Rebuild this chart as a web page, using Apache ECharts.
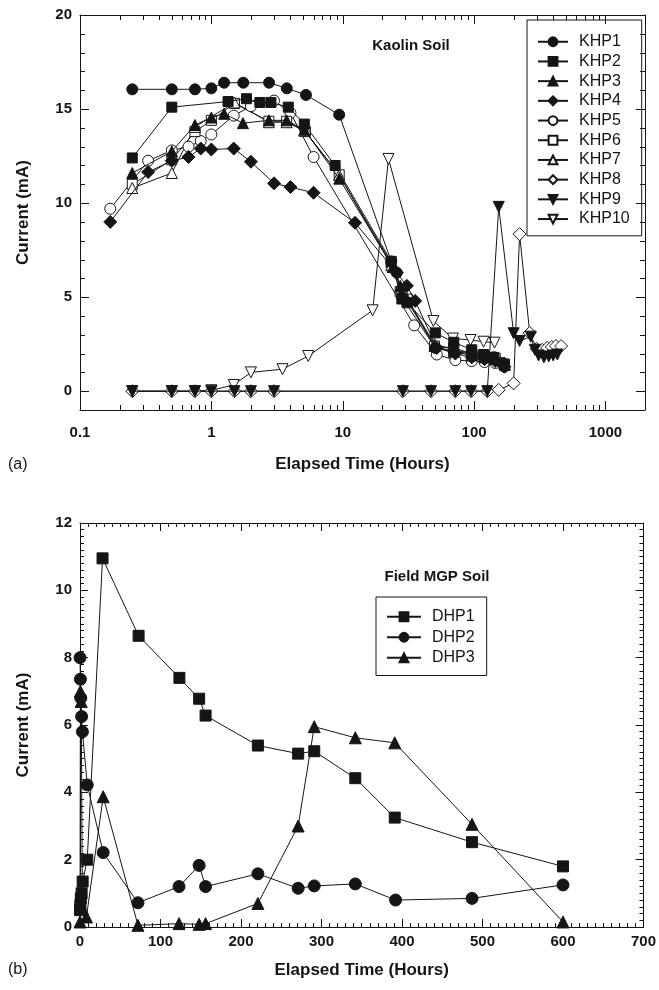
<!DOCTYPE html>
<html><head><meta charset="utf-8">
<script src="https://cdn.jsdelivr.net/npm/echarts@6/dist/echarts.min.js"></script>
<style>html,body{margin:0;padding:0;background:#fff}#ca{width:659px;height:490px}#cb{width:659px;height:500px}</style>
</head><body><div id="ca"></div><div id="cb"></div>
<script>
// ---------- Data: panel (a) Kaolin soil (time in hours, current in mA) ----------
const khp1Time = [0.25,0.5,0.75,1,1.25,1.75,2.75,3.75,5.25,9.4,23.4,25.8,28.2,50.7,70,96,118,141,165];
const khp1Current = [16.05,16.05,16.05,16.1,16.4,16.4,16.4,16.1,15.75,14.7,6.9,6.3,5.0,2.3,2.1,2.0,1.9,1.8,1.5];
const khp2Time = [0.25,0.5,1.34,1.85,2.34,2.84,3.85,5.1,8.75,23.4,28.2,31,50.7,70,96,118,141,170];
const khp2Current = [12.4,15.1,15.4,15.55,15.35,15.35,15.1,14.2,12.0,6.9,4.9,4.7,3.1,2.6,2.2,1.95,1.8,1.4];
const khp3Time = [0.25,0.5,0.75,1,1.25,1.74,2.74,3.74,5.1,9.4,24,27.4,31,50,70,96,120,145,172];
const khp3Current = [11.6,12.75,14.15,14.55,14.75,14.25,14.4,14.4,13.9,11.3,6.6,5.6,4.8,2.4,2.1,1.9,1.8,1.7,1.4];
const khp4Time = [0.17,0.33,0.5,0.67,0.83,1,1.48,2,3,4,6,12.4,25.8,30.8,35.6,52,72,96,120,145,170];
const khp4Current = [9.0,11.65,12.25,12.45,12.9,12.85,12.9,12.2,11.05,10.85,10.55,8.95,6.3,5.6,4.8,2.3,2.0,1.8,1.7,1.6,1.3];
const khp5Time = [0.17,0.33,0.5,0.67,0.83,1,1.48,2,3,4,6,35,52,72,96,120,145,170];
const khp5Current = [9.7,12.25,12.8,13.0,13.3,13.65,14.65,15.15,15.45,14.8,12.45,3.5,1.95,1.65,1.6,1.55,1.5,1.3];
const khp6Time = [0.25,0.5,0.75,1,1.5,2.74,3.74,5.2,9.4,23.4,27.4,31,50,70,96,120,145,170];
const khp6Current = [11.0,12.3,13.8,14.4,15.3,14.35,14.35,13.8,11.5,6.8,5.3,4.9,2.4,2.3,2.0,1.85,1.75,1.45];
const khp7Time = [0.25,0.5,0.75,1.5,2.74,3.74,5.1,9.4,23.4,28,31,50,70,96,120,145,170];
const khp7Current = [10.8,11.6,14.05,15.35,14.3,14.3,13.85,11.5,6.7,5.5,4.9,2.5,2.2,2.0,1.9,1.8,1.5];
const khp8Time = [0.25,0.5,0.75,1,1.5,2,3,28.7,47,72,95,126,154,200,222,265,300,330,360,390,420,460];
const khp8Current = [0,0,0,0,0,0,0,0,0,0,0,0,0.07,0.42,8.35,3.1,2.25,2.2,2.3,2.35,2.4,2.4];
const khp9Time = [0.25,0.5,0.75,1,1.5,2,3,28.7,47,72,95,126,154,200,222,270,290,310,340,370,400,430];
const khp9Current = [0,0,0,0,0,0,0,0,0,0,0,0,9.8,3.08,2.67,2.9,2.2,1.9,1.8,1.85,1.9,1.95];
const khp10Time = [0.25,0.5,0.75,1,1.48,2,3.48,5.46,16.9,22.3,49,69,94,118,143];
const khp10Current = [0,0,0,0.05,0.33,1.0,1.17,1.87,4.3,12.35,3.73,2.8,2.72,2.63,2.58];

// ---------- Data: panel (b) Field MGP soil ----------
const dhp1Time = [0,0.5,1,2,3.3,9,28,72.8,123.5,148,156,221,271,291,342,391,487,600];
const dhp1Current = [0.5,0.65,0.85,1.0,1.35,2.0,10.95,8.65,7.4,6.78,6.28,5.39,5.15,5.22,4.42,3.25,2.52,1.8];
const dhp2Time = [0,0.5,1,2,3,9,28.8,72,123,148,156,221,271,291,342,392,487,600];
const dhp2Current = [8.0,7.36,6.8,6.25,5.8,4.22,2.21,0.72,1.2,1.83,1.2,1.58,1.15,1.22,1.28,0.8,0.85,1.25];
const dhp3Time = [0,0.5,1.5,3,8,28.8,72,123,148,156,221,271,291,342,391,487,600];
const dhp3Current = [0.15,7.0,6.7,0.55,0.3,3.87,0.05,0.1,0.08,0.1,0.7,3.0,5.95,5.62,5.47,3.05,0.15];

// ---------- Tick labels ----------
const logTickValues = [0.1,1,10,100,1000];
const logTickLabels = ['0.1','1','10','100','1000'];
const topYTicks = [0,5,10,15,20];

// ---------- Styling ----------
const INK = '#151515';
const FONT = '"Liberation Sans", Arial, sans-serif';
const INV_TRI = 'path://M0,0 L10,0 L5,9 Z';

const logAllTicks = [];
logTickValues.forEach(d => { for (let k = 1; k <= 9; k++) { const v = +(d * k).toPrecision(3); if (v < 2000) logAllTicks.push(v); } });
const topYAllTicks = []; for (let v = -1; v <= 20; v++) topYAllTicks.push(v);

function mkSeries(name, t, v, sym, filled, size) {
  return {
    name, type: 'line', xAxisIndex: 0, yAxisIndex: 0,
    data: t.map((x, i) => [x, v[i]]),
    symbol: sym, symbolSize: size, showAllSymbol: true,
    lineStyle: { color: INK, width: 1 },
    itemStyle: { color: filled ? INK : '#fff', borderColor: INK, borderWidth: 1 },
    emphasis: { disabled: true }, silent: true, z: filled ? 3 : 2
  };
}

const tickLabelStyle = { fontFamily: FONT, fontWeight: 'bold', fontSize: 15, color: INK };
const nameStyle = { fontFamily: FONT, fontWeight: 'bold', fontSize: 17, color: INK };
const tickStyle = { stroke: INK, lineWidth: 1 };

function logLabel(v) {
  const k = Math.log10(v), r = Math.round(k);
  return Math.abs(k - r) < 1e-6 ? (logTickLabels[r + 1] || '') : '';
}

// ================= Panel (a) =================
function logX(pos, withLabel) {
  return {
    type: 'log', min: 0.1, max: 2000, position: pos, logBase: 10,
    axisLine: { show: true, onZero: false, lineStyle: { color: INK, width: 1 } },
    axisTick: { show: false },
    axisLabel: withLabel ? Object.assign({ show: true, margin: 15, formatter: logLabel }, tickLabelStyle) : { show: false },
    splitLine: { show: false }, minorTick: { show: false },
    name: withLabel ? 'Elapsed Time (Hours)' : '', nameLocation: 'middle', nameGap: 46, nameTextStyle: nameStyle
  };
}
function valY0(pos, withLabel) {
  return {
    type: 'value', min: -1, max: 20, splitNumber: 4, position: pos,
    axisLine: { show: true, onZero: false, lineStyle: { color: INK, width: 1 } },
    axisTick: { show: false },
    axisLabel: withLabel ? Object.assign({ show: true, margin: 8,
      formatter: v => (topYTicks.indexOf(v) >= 0 ? String(v) : '') }, tickLabelStyle) : { show: false },
    splitLine: { show: false },
    name: withLabel ? 'Current (mA)' : '', nameLocation: 'middle', nameGap: 48, nameTextStyle: nameStyle
  };
}
// tick marks of panel (a) on all four sides, placed through the axis scales
const xTickSeries = {
  type: 'custom', xAxisIndex: 0, yAxisIndex: 0, silent: true, clip: false, z: 5,
  data: logAllTicks.map(v => [v, 0]),
  renderItem: function (params, api) {
    const v = api.value(0);
    const x = Math.round(api.coord([v, 0])[0]) + 0.5;
    const len = logTickValues.indexOf(v) >= 0 ? 9 : 5;
    const cs = params.coordSys, yb = cs.y + cs.height, yt = cs.y;
    return { type: 'group', children: [
      { type: 'line', shape: { x1: x, y1: yb, x2: x, y2: yb - len }, style: tickStyle },
      { type: 'line', shape: { x1: x, y1: yt, x2: x, y2: yt + len }, style: tickStyle }
    ] };
  }
};
const yTickSeries = {
  type: 'custom', xAxisIndex: 0, yAxisIndex: 0, silent: true, clip: false, z: 5,
  data: topYAllTicks.map(v => [1, v]),
  renderItem: function (params, api) {
    const v = api.value(1);
    const y = Math.round(api.coord([1, v])[1]) + 0.5;
    const len = topYTicks.indexOf(v) >= 0 ? 9 : 5;
    const cs = params.coordSys, xl = cs.x, xr = cs.x + cs.width;
    return { type: 'group', children: [
      { type: 'line', shape: { x1: xl, y1: y, x2: xl + len, y2: y }, style: tickStyle },
      { type: 'line', shape: { x1: xr, y1: y, x2: xr - len, y2: y }, style: tickStyle }
    ] };
  }
};

const khpNames = ['KHP1','KHP2','KHP3','KHP4','KHP5','KHP6','KHP7','KHP8','KHP9','KHP10'];
const graphicA = [
  { type: 'text', x: 411, y: 46, style: { text: 'Kaolin Soil', font: 'bold 15px ' + FONT, fill: INK, align: 'center', verticalAlign: 'middle' } },
  { type: 'text', x: 8, y: 465, style: { text: '(a)', font: '16px ' + FONT, fill: INK, align: 'left', verticalAlign: 'middle' } }
];
const optionA = {
  animation: false,
  grid: { left: 80, right: 14, top: 15, bottom: 80 },
  xAxis: [ logX('bottom', true), logX('top', false) ],
  yAxis: [ valY0('left', true), valY0('right', false) ],
  legend: { data: khpNames, orient: 'vertical', left: 527, top: 20, selectedMode: false,
    backgroundColor: '#fff', borderColor: INK, borderWidth: 1, padding: [13, 12, 8, 10],
    itemWidth: 30, itemHeight: 11, itemGap: 2.2,
    textStyle: { fontFamily: FONT, fontSize: 16, color: INK, lineHeight: 17.5, padding: [0, 0, 0, 6] } },
  graphic: graphicA,
  series: [
    mkSeries('KHP1', khp1Time, khp1Current, 'circle', true, 11),
    mkSeries('KHP2', khp2Time, khp2Current, 'rect', true, 10),
    mkSeries('KHP3', khp3Time, khp3Current, 'triangle', true, 11),
    mkSeries('KHP4', khp4Time, khp4Current, 'diamond', true, 13),
    mkSeries('KHP5', khp5Time, khp5Current, 'circle', false, 11),
    mkSeries('KHP6', khp6Time, khp6Current, 'rect', false, 10),
    mkSeries('KHP7', khp7Time, khp7Current, 'triangle', false, 11),
    mkSeries('KHP8', khp8Time, khp8Current, 'diamond', false, 13),
    mkSeries('KHP9', khp9Time, khp9Current, INV_TRI, true, 11),
    mkSeries('KHP10', khp10Time, khp10Current, INV_TRI, false, 11),
    xTickSeries, yTickSeries
  ]
};
const chartA = echarts.init(document.getElementById('ca'), null, { renderer: 'canvas' });
chartA.setOption(optionA);

// ================= Panel (b) =================
function linX1(pos, withLabel) {
  return {
    type: 'value', min: 0, max: 700, interval: 100, position: pos,
    axisLine: { show: true, onZero: false, lineStyle: { color: INK, width: 1 } },
    axisTick: { show: true, inside: true, length: 8, lineStyle: { color: INK } },
    minorTick: { show: true, splitNumber: 10, length: 4, lineStyle: { color: INK } },
    axisLabel: withLabel ? Object.assign({ show: true, margin: 7, showMaxLabel: true }, tickLabelStyle) : { show: false },
    splitLine: { show: false },
    name: withLabel ? 'Elapsed Time (Hours)' : '', nameLocation: 'middle', nameGap: 35, nameTextStyle: nameStyle
  };
}
function linY1(pos, withLabel) {
  return {
    type: 'value', min: 0, max: 12, interval: 2, position: pos,
    axisLine: { show: true, onZero: false, lineStyle: { color: INK, width: 1 } },
    axisTick: { show: true, inside: true, length: 8, lineStyle: { color: INK } },
    minorTick: { show: true, splitNumber: 10, length: 4, lineStyle: { color: INK } },
    axisLabel: withLabel ? Object.assign({ show: true, margin: 8 }, tickLabelStyle) : { show: false },
    splitLine: { show: false },
    name: withLabel ? 'Current (mA)' : '', nameLocation: 'middle', nameGap: 48, nameTextStyle: nameStyle
  };
}
const dhpNames = ['DHP1','DHP2','DHP3'];
const optionB = {
  animation: false,
  grid: { left: 80, right: 11, top: 33, bottom: 63 },
  xAxis: [ linX1('bottom', true), linX1('top', false) ],
  yAxis: [ linY1('left', true), linY1('right', false) ],
  legend: { data: dhpNames, orient: 'vertical', left: 376, top: 107, selectedMode: false,
    backgroundColor: '#fff', borderColor: INK, borderWidth: 1, padding: [11, 12, 9, 10],
    itemWidth: 34, itemHeight: 11, itemGap: 3,
    textStyle: { fontFamily: FONT, fontSize: 16, color: INK, lineHeight: 17.5, padding: [0, 0, 0, 6] } },
  graphic: [
    { type: 'text', x: 437, y: 87, style: { text: 'Field MGP Soil', font: 'bold 15px ' + FONT, fill: INK, align: 'center', verticalAlign: 'middle' } },
    { type: 'text', x: 8, y: 480, style: { text: '(b)', font: '16px ' + FONT, fill: INK, align: 'left', verticalAlign: 'middle' } }
  ],
  series: [
    mkSeries('DHP1', dhp1Time, dhp1Current, 'rect', true, 11),
    mkSeries('DHP2', dhp2Time, dhp2Current, 'circle', true, 12),
    mkSeries('DHP3', dhp3Time, dhp3Current, 'triangle', true, 12)
  ]
};
const chartB = echarts.init(document.getElementById('cb'), null, { renderer: 'canvas' });
chartB.setOption(optionB);
</script></body></html>
